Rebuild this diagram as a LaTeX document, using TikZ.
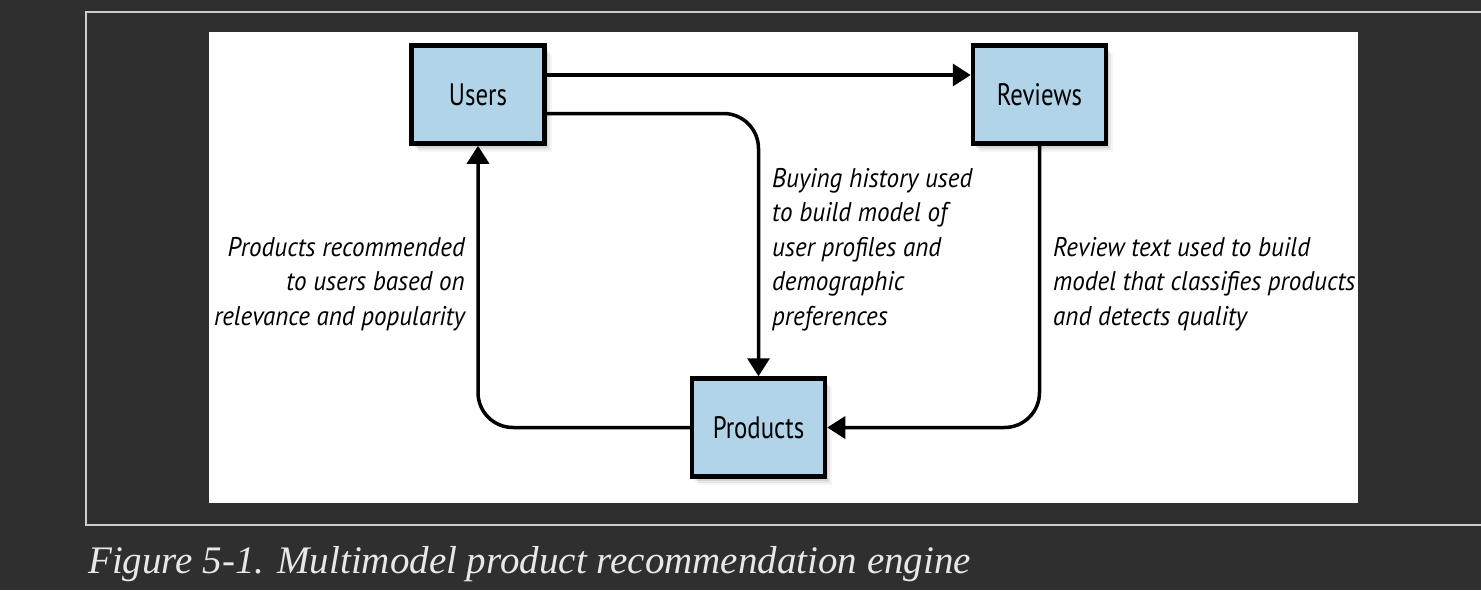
\documentclass[tikz,border=0pt]{standalone}
\usepackage{fontspec}
\newfontfamily\diagfont[FakeStretch=0.8]{PT Sans}
\newfontfamily\notefont[FakeStretch=0.93]{PT Sans}
\newfontfamily\capfont{Liberation Serif}
\usetikzlibrary{positioning,arrows.meta,shadows}
\definecolor{boxblue}{RGB}{178,212,233}
\definecolor{pagegray}{RGB}{47,47,47}
\definecolor{rulegray}{RGB}{205,205,205}
\definecolor{captiongray}{RGB}{232,232,232}

\begin{document}
\begin{tikzpicture}
                [x=1pt,y=-1pt,
                box/.style={rectangle,draw,fill=boxblue,line width=4.5pt,minimum width=133pt,minimum height=98pt,inner sep=0pt,
                  font=\diagfont\fontsize{31}{34}\selectfont,
                  drop shadow={shadow xshift=7pt,shadow yshift=-8pt,opacity=.08},
                  drop shadow={shadow xshift=5pt,shadow yshift=-6pt,opacity=.12},
                  drop shadow={shadow xshift=3pt,shadow yshift=-4pt,opacity=.18}},
                lbl/.style={inner sep=0pt,font=\notefont\itshape\fontsize{27}{34.5}\selectfont},
                flow/.style={line width=3.5pt,-{Triangle[length=18pt,width=22pt]},rounded corners=35pt}]
                \useasboundingbox (0,0) rectangle (1481,590);
                \fill[pagegray] (0,0) rectangle (1481,590);
                \draw[rulegray,line width=1.3pt] (1490,12) -- (86,12) -- (86,525) -- (1490,525);
                \fill[white] (209,32) rectangle (1358,503);
                \node[box] (users) at (478,94.5) {Users};
                \node[box] (reviews) at (1039.5,94.5) {Reviews};
                \node[box] (products) at (758.5,427.5) {Products};
                % base anchor sits on the last line
                \node[lbl,align=left,anchor=base west] (textbuy) at (772,325)
                    {Buying history used\\to build model of\\user profiles and\\demographic\\preferences};
                \node[lbl,align=right,anchor=base east] (textrec) at (465,325)
                    {Products recommended\\to users based on\\relevance and popularity};
                \node[lbl,align=left,anchor=base west] (textrev) at (1053,325)
                    {Review text used to build\\model that classifies products\\and detects quality};
                \path[flow] ([yshift=19.5pt]users.east) edge ([yshift=19.5pt]reviews.west);
                \draw[flow] ([yshift=-19pt]users.east) -| (products.north);
                \draw[flow] (reviews.south) |- (products.east);
                \draw[flow] (products.west) -| (users.south);
                \node[anchor=base west,inner sep=0pt,text=captiongray,font=\capfont\itshape\fontsize{39}{41}\selectfont] (textfig) at (88,573)
                    {Figure 5-1. Multimodel product recommendation engine};
\end{tikzpicture}
\end{document}
